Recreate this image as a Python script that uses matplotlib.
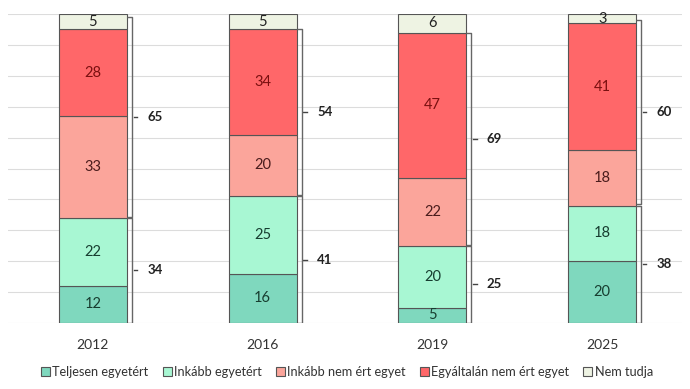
import matplotlib.pyplot as plt
from matplotlib.patches import Patch

years = ["2012", "2016", "2019", "2025"]
teljesen = [12, 16, 5, 20]
inkabb_egyet = [22, 25, 20, 18]
inkabb_nem = [33, 20, 22, 18]
egyaltalan = [28, 34, 47, 41]
nem_tudja = [5, 5, 6, 3]
agree_totals = [34, 41, 25, 38]
disagree_totals = [65, 54, 69, 60]

labels = ["Teljesen egyetért", "Inkább egyetért", "Inkább nem ért egyet",
          "Egyáltalán nem ért egyet", "Nem tudja"]
colors = ["#7fd8be", "#a8f7d3", "#fba59b", "#ff6769", "#eef3e3"]
text_colors = ["#173d30", "#173d30", "#4a1c1c", "#7a1010", "#222222"]
series = [teljesen, inkabb_egyet, inkabb_nem, egyaltalan, nem_tudja]

plt.rcParams['font.family'] = ['Lato', 'DejaVu Sans']

fig = plt.figure(figsize=(6.9, 3.89), dpi=100)
ax = fig.add_axes([8 / 690, 66 / 389, 674 / 690, 309 / 389])

x = [0, 1, 2, 3]
width = 0.4
bottoms = [0, 0, 0, 0]
for vals, col, tcol, lab in zip(series, colors, text_colors, labels):
    ax.bar(x, vals, width, bottom=bottoms, color=col, edgecolor="#555555",
           linewidth=0.8, label=lab, zorder=3)
    for xi, v, b in zip(x, vals, bottoms):
        ax.text(xi, b + v / 2, str(v), ha="center", va="center",
                fontsize=10.5, color=tcol, zorder=4)
    bottoms = [b + v for b, v in zip(bottoms, vals)]

# brackets with totals
off = 0.03
for xi, a, d in zip(x, agree_totals, disagree_totals):
    xr = xi + width / 2
    xb = xr + off
    for lo, hi, tot in [(0, a, a), (a + 0.4, a + d, d)]:
        ax.plot([xr, xb, xb, xr], [lo, lo, hi, hi], color="#666666",
                lw=1.0, zorder=4, solid_capstyle="butt")
        mid = (lo + hi) / 2
        ax.plot([xb + 0.01, xb + 0.03], [mid, mid], color="#444444", lw=1.0)
        ax.text(xb + 0.09, mid, str(tot), ha="left", va="center",
                fontsize=9.5, fontweight="bold", color="#222222")

ax.set_xlim(-0.5, 3.47)
ax.set_ylim(0, 100)
ax.set_yticks(range(0, 101, 10))
ax.yaxis.grid(True, color="#dcdcdc", lw=0.8, zorder=0)
ax.tick_params(left=False, labelleft=False, bottom=False)
ax.set_xticks(x)
ax.set_xticklabels(years, fontsize=10, color="#333333")
ax.tick_params(axis="x", pad=8)
for s in ax.spines.values():
    s.set_visible(False)

handles = [Patch(facecolor=c, edgecolor="#555555", linewidth=0.8) for c in colors]
fig.legend(handles, labels, loc="center", bbox_to_anchor=(0.503, 17 / 389),
           ncol=5, frameon=False, fontsize=9.2, handlelength=0.7,
           handleheight=0.7, handletextpad=0.2, columnspacing=1.1,
           labelcolor="#333333")

fig.savefig("out.png", dpi=100)
